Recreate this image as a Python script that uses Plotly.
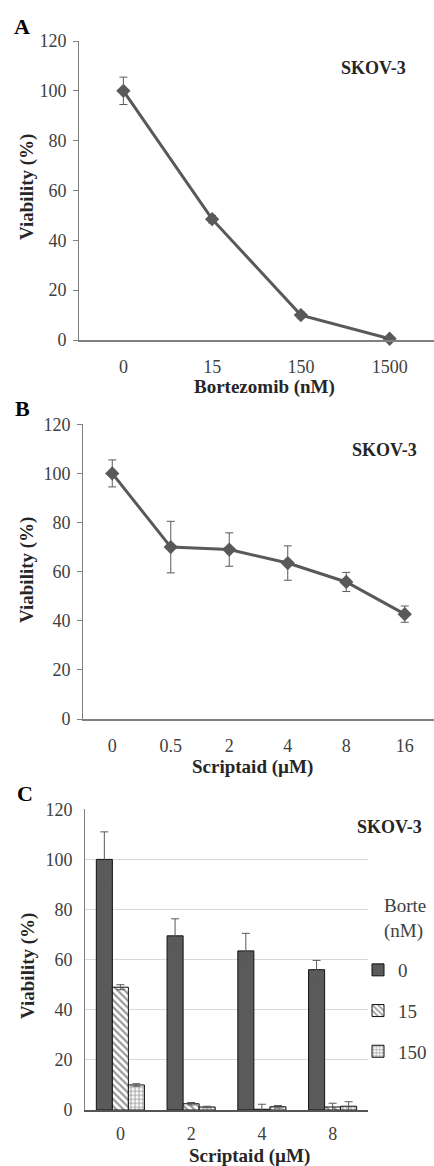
import plotly.graph_objects as go

# ---------------- data ----------------
a_dose = ["0", "15", "150", "1500"]
a_viab = [100, 48.5, 10, 0.5]
a_err = [5.5, 1.5, 1.2, 0.5]

b_dose = ["0", "0.5", "2", "4", "8", "16"]
b_viab = [100, 70, 69, 63.5, 55.8, 42.7]
b_err = [5.5, 10.5, 6.8, 7, 3.9, 3.3]

c_script = ["0", "2", "4", "8"]
c_b0 = [100, 69.5, 63.5, 56]
c_b0_err = [11, 6.8, 7, 3.7]
c_b15 = [49, 2.5, 0.3, 1.2]
c_b15_err = [1, 0.5, 2, 1.5]
c_b150 = [10, 1.2, 1.3, 1.5]
c_b150_err = [0.5, 0.3, 0.5, 1.8]

y_ticks = [0, 20, 40, 60, 80, 100, 120]

W, H = 434, 1166
SERIF = "Liberation Serif"
LINE = "#595959"
AXIS = "#808080"
TXT = "#404040"


def px(x):
    return x / W


def py(y):
    return 1 - y / H


fig = go.Figure()

# Panel A
fig.add_trace(go.Scatter(
    x=a_dose, y=a_viab, mode="lines+markers", xaxis="x", yaxis="y",
    line=dict(color=LINE, width=3),
    marker=dict(symbol="diamond", size=11, color=LINE),
    error_y=dict(type="data", array=a_err, color=LINE, thickness=1, width=4),
    showlegend=False, cliponaxis=False))

# Panel B
fig.add_trace(go.Scatter(
    x=b_dose, y=b_viab, mode="lines+markers", xaxis="x2", yaxis="y2",
    line=dict(color=LINE, width=3),
    marker=dict(symbol="diamond", size=11, color=LINE),
    error_y=dict(type="data", array=b_err, color=LINE, thickness=1, width=4),
    showlegend=False, cliponaxis=False))

# Panel C
fig.add_trace(go.Bar(
    x=c_script, y=c_b0, name="0", xaxis="x3", yaxis="y3", legendgroup="g0",
    marker=dict(color="#5a5a5a", line=dict(color="#111111", width=1)),
    error_y=dict(type="data", array=c_b0_err, color=LINE, thickness=1, width=4)))
fig.add_trace(go.Bar(
    x=c_script, y=c_b15, name="15", xaxis="x3", yaxis="y3", legendgroup="g15",
    marker=dict(color="white", line=dict(color="#111111", width=1),
                pattern=dict(shape="\\", fgcolor="#333333", bgcolor="white",
                             size=5, solidity=0.45)),
    error_y=dict(type="data", array=c_b15_err, color=LINE, thickness=1, width=4)))
fig.add_trace(go.Bar(
    x=c_script, y=c_b150, name="150", xaxis="x3", yaxis="y3", legendgroup="g150",
    marker=dict(color="white", line=dict(color="#111111", width=1),
                pattern=dict(shape="+", fgcolor="#333333", bgcolor="white",
                             size=4, solidity=0.4)),
    error_y=dict(type="data", array=c_b150_err, color=LINE, thickness=1, width=4)))

tickfont = dict(family=SERIF, size=18, color=TXT)

ya = dict(range=[0, 120], tickvals=y_ticks, showline=True, linecolor=AXIS,
          linewidth=1, ticks="outside", ticklen=5, tickcolor=AXIS,
          ticklabelstandoff=3,
          showgrid=False, zeroline=False, tickfont=tickfont)
xa = dict(type="category", showline=True, linecolor=AXIS, linewidth=1.5,
          ticks="", showgrid=False, zeroline=False, tickfont=tickfont,
          ticklabelstandoff=10)

fig.update_layout(
    width=W, height=H, margin=dict(l=0, r=0, t=0, b=0, autoexpand=False),
    paper_bgcolor="white", plot_bgcolor="white",
    font=dict(family=SERIF, color=TXT),
    barmode="group", bargap=0.32, bargroupgap=0,
    xaxis=dict(xa, domain=[px(79), 1.0], anchor="y", range=[-0.5, 3.5]),
    yaxis=dict(ya, domain=[py(340), py(41)], anchor="x"),
    xaxis2=dict(xa, domain=[px(83), 1.0], anchor="y2", range=[-0.5, 5.5]),
    yaxis2=dict(ya, domain=[py(719), py(424.3)], anchor="x2"),
    xaxis3=dict(xa, domain=[px(85), px(368)], anchor="y3", range=[-0.5, 3.5],
                linecolor="#555555", ticklabelstandoff=7),
    yaxis3=dict(ya, domain=[py(1110), py(809.3)], anchor="x3", ticks="",
                ticklabelstandoff=8,
                showgrid=True, gridcolor="#d9d9d9", gridwidth=1),
    legend=dict(x=px(358), y=py(951), xanchor="left", yanchor="top",
                font=dict(family=SERIF, size=19, color=TXT),
                tracegroupgap=13, itemwidth=30, bgcolor="rgba(0,0,0,0)"),
)

ann = []
bold = dict(family=SERIF, color="#262626")
# panel letters
for letter, x, y in [("A", 22, 26), ("B", 22, 408), ("C", 25, 793)]:
    ann.append(dict(text="<b>%s</b>" % letter, x=px(x), y=py(y), xref="paper", yref="paper",
                    xanchor="center", yanchor="middle",
                    showarrow=False, font=dict(bold, size=22, color="black")))
# SKOV-3 labels
for x, y in [(373, 68), (384, 450), (389, 827)]:
    ann.append(dict(text="<b>SKOV-3</b>", x=px(x), y=py(y), xref="paper", yref="paper",
                    xanchor="center", yanchor="middle",
                    showarrow=False, font=dict(bold, size=18)))
# x titles
for t, x, y in [("Bortezomib (nM)", 264, 387), ("Scriptaid (µM)", 252, 767),
                ("Scriptaid (µM)", 250, 1156)]:
    ann.append(dict(text="<b>%s</b>" % t, x=px(x), y=py(y), xref="paper", yref="paper",
                    xanchor="center", yanchor="middle",
                    showarrow=False, font=dict(bold, size=19)))
# y titles
for x, y in [(27, 187), (27, 570), (28, 966)]:
    ann.append(dict(text="<b>Viability (%)</b>", x=px(x), y=py(y), xref="paper", yref="paper",
                    xanchor="center", yanchor="middle",
                    showarrow=False, textangle=-90, font=dict(bold, size=19)))
# legend title
ann.append(dict(text="Borte<br>(nM)", x=px(382), y=py(918), xref="paper", yref="paper",
                xanchor="left", yanchor="middle", align="left",
                showarrow=False, font=dict(family=SERIF, size=19, color=TXT)))
fig.update_layout(annotations=ann)

fig.write_html("out.html", config={"displayModeBar": False},
               post_script="document.body.style.margin='0';document.body.style.overflow='hidden';")
